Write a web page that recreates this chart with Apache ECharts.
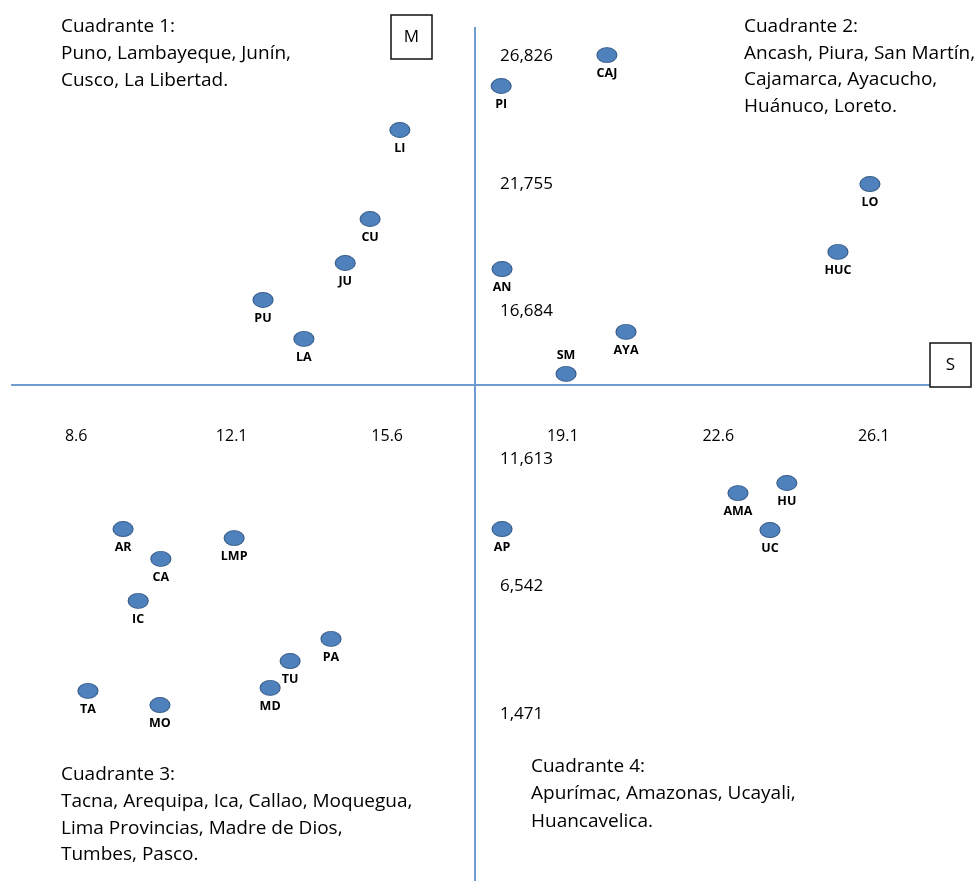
<!DOCTYPE html>
<html>
<head>
<meta charset="utf-8">
<script src="https://cdn.jsdelivr.net/npm/echarts@6/dist/echarts.min.js"></script>
<style>
  html, body { margin: 0; padding: 0; background: #fff; }
  #chart { width: 977px; height: 881px; }
</style>
</head>
<body>
<div id="chart"></div>
<script>
// ---- Data ----
const regions = ['LI','CU','JU','PU','LA','PI','CAJ','AN','SM','AYA','HUC','LO','AP','AMA','HU','UC','AR','CA','IC','LMP','PA','TU','MD','TA','MO'];
const sValues = [15.66,14.99,14.43,12.58,13.50,17.94,20.32,17.96,19.40,20.75,25.52,26.24,17.96,23.27,24.37,23.99,9.43,10.28,9.77,11.93,14.11,13.19,12.74,8.64,10.26];
const mValues = [24290,20750,19000,17530,15980,26040,27270,18760,14590,16260,19440,22140,8420,9850,10250,8380,8420,7230,5560,8060,4050,3170,2100,1980,1420];
const xTickValues = [8.6, 12.1, 15.6, 19.1, 22.6, 26.1];
const yTickValues = [1471, 6542, 11613, 16684, 21755, 26826];
const crossX = 17.35;     // S dividing value
const crossY = 14148.5;   // M dividing value
const xAxisName = 'S';
const yAxisName = 'M';
const quadrant1 = ['Cuadrante 1:', 'Puno, Lambayeque, Junín,', 'Cusco, La Libertad.'];
const quadrant2 = ['Cuadrante 2:', 'Ancash, Piura, San Martín,', 'Cajamarca, Ayacucho,', 'Huánuco, Loreto.'];
const quadrant3 = ['Cuadrante 3:', 'Tacna, Arequipa, Ica, Callao, Moquegua,', 'Lima Provincias, Madre de Dios,', 'Tumbes, Pasco.'];
const quadrant4 = ['Cuadrante 4:', 'Apurímac, Amazonas, Ucayali,', 'Huancavelica.'];

// ---- Layout / style ----
const X_MIN = 6.66, X_MAX = 28.65, Y_MIN = -5579, Y_MAX = 29460;
const labelAbove = new Set(['SM']);
const FONT = '"Open Sans", Lato, sans-serif';
const LINE_COLOR = '#6f9bd0';
const PUSH = 20; // tick labels are kept clear of the crossing axes

const fmt = v => String(v).replace(/\B(?=(\d{3})+(?!\d))/g, ',');
const tickText = { fontSize: 17, color: '#000', fontFamily: FONT };

const data = regions.map((n, i) => {
  const d = { name: n, value: [sValues[i], mValues[i]] };
  if (labelAbove.has(n)) d.label = { position: 'top' };
  return d;
});

const chart = echarts.init(document.getElementById('chart'), null, { renderer: 'canvas' });
chart.setOption({
  animation: false,
  backgroundColor: '#ffffff',
  textStyle: { fontFamily: FONT },
  grid: { left: 0, right: 0, top: 0, bottom: 0, containLabel: false },
  xAxis: {
    type: 'value', min: X_MIN, max: X_MAX, position: 'bottom', offset: -496,
    axisLine: { show: false, onZero: false },
    axisTick: { show: false },
    splitLine: { show: false },
    axisLabel: {
      customValues: xTickValues, margin: 43, color: '#000', fontSize: 16, fontFamily: FONT,
      formatter: v => (v < crossX ? '{l|' : '{r|') + v + '}',
      rich: {
        l: { fontSize: 16, color: '#000', fontFamily: FONT, padding: [0, PUSH, 0, 0] },
        r: { fontSize: 16, color: '#000', fontFamily: FONT, padding: [0, 0, 0, PUSH] }
      }
    }
  },
  yAxis: {
    type: 'value', min: Y_MIN, max: Y_MAX, position: 'left', offset: -475,
    axisLine: { show: false, onZero: false },
    axisTick: { show: false },
    splitLine: { show: false },
    axisLabel: {
      customValues: yTickValues, inside: true, margin: 25, color: '#000', fontSize: 17, fontFamily: FONT,
      formatter: v => (v > crossY ? '{u|' : '{d|') + fmt(v) + '}',
      rich: {
        u: Object.assign({ padding: [0, 0, PUSH, 0] }, tickText),
        d: Object.assign({ padding: [PUSH, 0, 0, 0] }, tickText)
      }
    }
  },
  series: [{
    type: 'scatter',
    symbol: 'path://M0 50 A50 50 0 1 1 100 50 A50 50 0 1 1 0 50 Z',
    symbolSize: [20, 15],
    itemStyle: { color: '#4f81bd', borderColor: '#385d8a', borderWidth: 1, opacity: 1 },
    label: {
      show: true, position: 'bottom', distance: 4, formatter: '{b}',
      color: '#000', fontSize: 12.5, fontWeight: 'bold', fontFamily: FONT
    },
    emphasis: { disabled: true },
    data: data,
    z: 3,
    markLine: {
      silent: true, symbol: 'none', animation: false,
      lineStyle: { color: LINE_COLOR, width: 2, type: 'solid' },
      label: { show: false },
      emphasis: { disabled: true },
      data: [
        [{ coord: [6.91, crossY] }, { coord: [27.59, crossY] }],
        [{ coord: [crossX, 28390] }, { coord: [crossX, Y_MIN] }]
      ]
    }
  }],
  graphic: [
    { type: 'text', x: 61, y: 13.5, z: 10, style: { text: quadrant1.join('\n'), font: '19px ' + FONT, fill: '#000', lineHeight: 27 } },
    { type: 'text', x: 744, y: 13.5, z: 10, style: { text: quadrant2.join('\n'), font: '19px ' + FONT, fill: '#000', lineHeight: 26.5 } },
    { type: 'text', x: 61, y: 761.5, z: 10, style: { text: quadrant3.join('\n'), font: '19px ' + FONT, fill: '#000', lineHeight: 26.7 } },
    { type: 'text', x: 531, y: 752.5, z: 10, style: { text: quadrant4.join('\n'), font: '19px ' + FONT, fill: '#000', lineHeight: 27.5 } },
    { type: 'rect', z: 10, shape: { x: 391, y: 15, width: 41, height: 44 }, style: { fill: '#fff', stroke: '#111', lineWidth: 1.5 } },
    { type: 'text', z: 11, x: 411.5, y: 37, style: { text: yAxisName, font: '17px ' + FONT, fill: '#000', align: 'center', verticalAlign: 'middle' } },
    { type: 'rect', z: 10, shape: { x: 930, y: 343, width: 41, height: 44 }, style: { fill: '#fff', stroke: '#111', lineWidth: 1.5 } },
    { type: 'text', z: 11, x: 950.5, y: 365, style: { text: xAxisName, font: '17px ' + FONT, fill: '#000', align: 'center', verticalAlign: 'middle' } }
  ]
});
</script>
</body>
</html>
